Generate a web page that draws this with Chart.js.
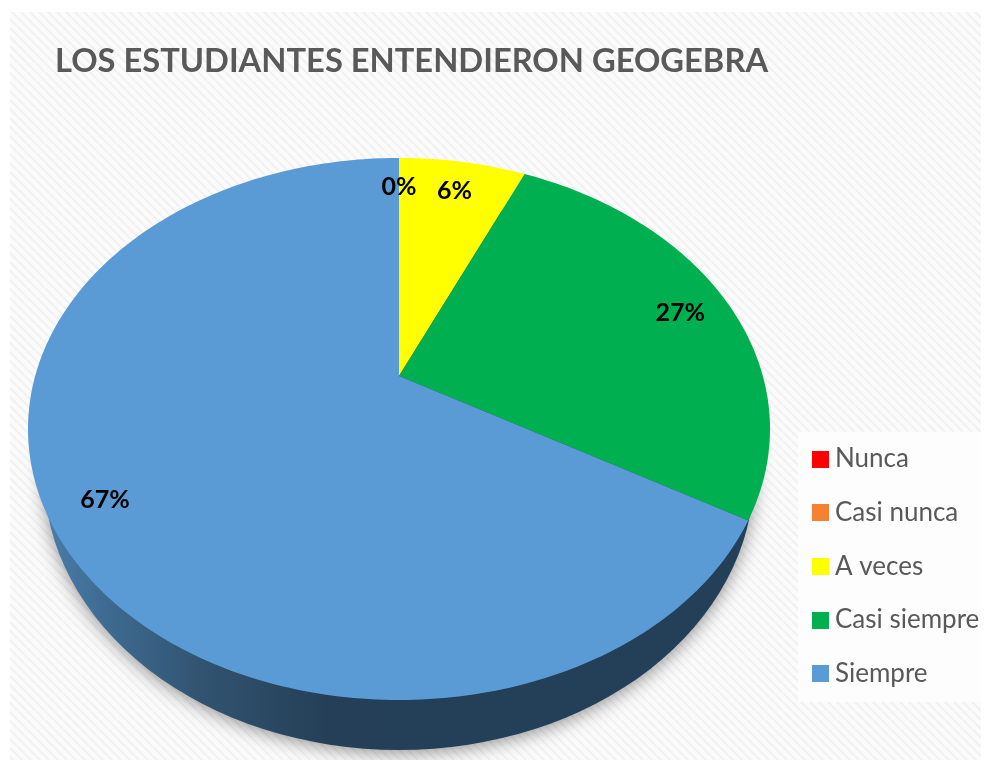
<!DOCTYPE html>
<html>
<head>
<meta charset="utf-8">
<script src="https://cdn.jsdelivr.net/npm/chart.js@4"></script>
<style>
html,body{margin:0;padding:0;background:#fff;overflow:hidden}
canvas{display:block;filter:blur(0.6px)}
</style>
</head>
<body>
<canvas id="c" width="984" height="760"></canvas>
<script>
const titleText = 'LOS ESTUDIANTES ENTENDIERON GEOGEBRA';
const categories = ['Nunca', 'Casi nunca', 'A veces', 'Casi siempre', 'Siempre'];
const shares = [0, 0, 6.67, 26.67, 66.66];
const shareLabels = ['', '0%', '6%', '27%', '67%'];
const sliceColors = ['#FF0000', '#F58233', '#FFFF00', '#00B050', '#5B9BD5'];

function geometry(chart) {
  const a = chart.chartArea;
  const rx = a.width / 2, cx = a.left + rx;
  const back = a.height * 218 / 592, front = a.height * 324 / 592;
  const k = (front - back) / (front + back);
  return {
    a, cx, rx, k,
    apexY: a.top + back,
    vy: front * (1 - k),
    vx: rx * Math.sqrt(1 - k * k),
    wallRx: rx * 355 / 371,
    wallRy: a.height * 276 / 592
  };
}
function project(g, f, angle) {
  const t = angle + Math.PI / 2;
  const u = f * Math.sin(t), v = -f * Math.cos(t), den = 1 - g.k * v;
  return { x: g.cx + g.vx * u / den, y: g.apexY + g.vy * v / den };
}

const tiltedPie = {
  id: 'tiltedPie',
  beforeDraw(chart) {
    const ctx = chart.ctx;
    const tile = document.createElement('canvas');
    tile.width = tile.height = 9;
    const t = tile.getContext('2d');
    t.fillStyle = '#fbfbfb'; t.fillRect(0, 0, 9, 9);
    t.strokeStyle = '#f1f1f1'; t.lineWidth = 2.2;
    [-9, 0, 9].forEach(o => { t.beginPath(); t.moveTo(o, 0); t.lineTo(o + 9, 9); t.stroke(); });
    ctx.save();
    ctx.fillStyle = ctx.createPattern(tile, 'repeat');
    ctx.fillRect(10, 12, 971, 748);
    ctx.fillStyle = '#fdfdfd';
    ctx.fillRect(798, 432, 183, 270);
    ctx.restore();
  },
  afterLayout(chart) {
    chart.titleBlock.left = 55;
    const l = chart.legend, pad = l.options.labels.padding;
    l.left = 819 - pad; l.right = 984;
    l.top = 459 - 13 - pad; l.bottom = 760;
  },
  beforeDatasetsDraw(chart) {
    const g = geometry(chart), ctx = chart.ctx;
    const wy = g.a.bottom - g.wallRy;
    const grad = ctx.createLinearGradient(g.cx - g.wallRx, 0, g.cx, 0);
    grad.addColorStop(0, '#4a7dab');
    grad.addColorStop(0.15, '#3f6d95');
    grad.addColorStop(0.45, '#31536f');
    grad.addColorStop(0.8, '#253f57');
    grad.addColorStop(1, '#243f58');
    ctx.save();
    ctx.shadowColor = 'rgba(0,0,0,0.42)';
    ctx.shadowBlur = 18;
    ctx.shadowOffsetY = 3;
    ctx.fillStyle = grad;
    ctx.beginPath();
    ctx.ellipse(g.cx, wy, g.wallRx, g.wallRy, 0, 0, Math.PI * 2);
    ctx.fill();
    ctx.restore();
    chart.getDatasetMeta(0).data.forEach((el, i) => {
      el.draw = function (c) {
        const { startAngle, endAngle } = this.getProps(['startAngle', 'endAngle'], true);
        if (endAngle - startAngle <= 0) return;
        const steps = Math.ceil((endAngle - startAngle) * 60);
        c.save();
        c.fillStyle = sliceColors[i];
        c.beginPath();
        c.moveTo(g.cx, g.apexY);
        for (let s = 0; s <= steps; s++) {
          const p = project(g, 1, startAngle + (endAngle - startAngle) * s / steps);
          c.lineTo(p.x, p.y);
        }
        c.closePath();
        c.fill();
        c.restore();
      };
    });
  },
  afterDatasetsDraw(chart) {
    const g = geometry(chart), ctx = chart.ctx;
    ctx.save();
    ctx.font = 'bold 25px Lato';
    ctx.fillStyle = '#000';
    ctx.textAlign = 'center';
    ctx.textBaseline = 'middle';
    chart.getDatasetMeta(0).data.forEach((el, i) => {
      if (!shareLabels[i]) return;
      const { startAngle, endAngle } = el.getProps(['startAngle', 'endAngle'], true);
      const p = project(g, 0.855, (startAngle + endAngle) / 2);
      ctx.fillText(shareLabels[i], p.x, p.y + 2);
    });
    ctx.restore();
  }
};

function legendSwatch(color) {
  const s = document.createElement('canvas');
  s.width = s.height = 17;
  const x = s.getContext('2d');
  x.fillStyle = color;
  x.fillRect(0, 0, 17, 17);
  return s;
}

new Chart(document.getElementById('c'), {
  type: 'pie',
  data: {
    labels: categories,
    datasets: [{ data: shares, backgroundColor: sliceColors, borderWidth: 0 }]
  },
  plugins: [tiltedPie],
  options: {
    responsive: false,
    animation: false,
    layout: { padding: { left: 28, right: 214, top: 0, bottom: 10 } },
    plugins: {
      tooltip: { enabled: false },
      title: {
        display: true,
        text: titleText,
        align: 'start',
        color: '#595959',
        font: { family: 'Lato', size: 32.7, weight: 'bold', lineHeight: 1.2 },
        padding: { top: 41.6, bottom: 77.1 }
      },
      legend: {
        position: 'chartArea',
        align: 'start',
        labels: {
          color: '#595959',
          font: { family: 'Lato', size: 26 },
          usePointStyle: true,
          pointStyleWidth: 3,
          boxHeight: 17,
          padding: 27.7,
          generateLabels(chart) {
            return categories.map((name, i) => ({
              text: name, fontColor: '#595959', index: i, hidden: false,
              lineWidth: 0, pointStyle: legendSwatch(sliceColors[i])
            }));
          }
        }
      }
    }
  }
});
</script>
</body>
</html>
